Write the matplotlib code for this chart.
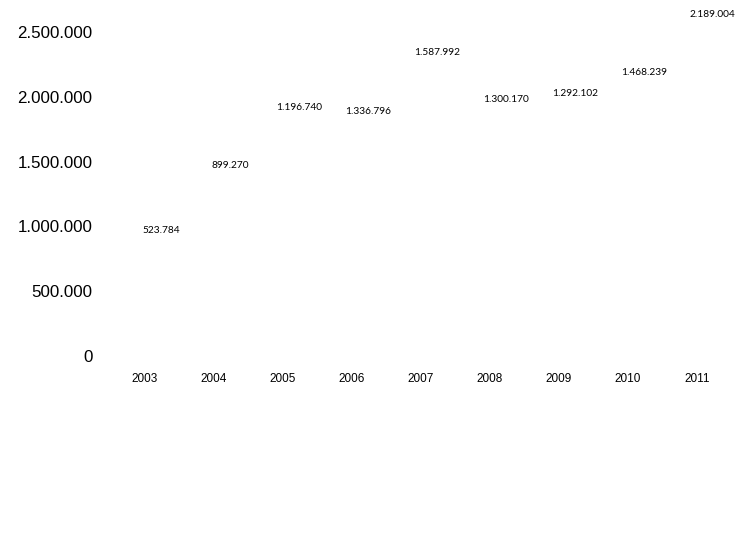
import numpy as np
import matplotlib
matplotlib.use("Agg")
import matplotlib.pyplot as plt
from matplotlib.ticker import FuncFormatter

years = ["2003", "2004", "2005", "2006", "2007", "2008", "2009", "2010", "2011"]
values = [523784, 899270, 1196740, 1336796, 1587992, 1300170, 1292102, 1468239, 2189004]
# hidden series stacked below the labelled one (bars are not drawn in the reference)
hidden = [448000, 567000, 717000, 546000, 750000, 675000, 730000, 716000, 442000]
yticks = [0, 500000, 1000000, 1500000, 2000000, 2500000]


def dotted(v):
    return f"{int(v):,}".replace(",", ".")


fig = plt.figure(figsize=(7.47, 5.44), dpi=100)
ax = fig.add_axes([0.1479, 0.3456, 0.8313, 0.6434])

x = np.arange(len(years))
off = 0.23
bars = ax.bar(x + off, values, bottom=hidden, width=0.4, color="none")
for xi, b, v in zip(x, hidden, values):
    ax.text(xi + off, b + v, dotted(v), ha="center", va="center",
            fontsize=7.3, family="Lato", clip_on=False)

ax.set_xlim(-0.5, len(years) - 0.5)
ax.set_ylim(0, 2700000)
ax.set_xticks(x)
ax.set_xticklabels(years)
ax.set_yticks(yticks)
ax.yaxis.set_major_formatter(FuncFormatter(lambda v, p: dotted(v)))
for lab in ax.get_xticklabels():
    lab.set_fontsize(8.5)
    lab.set_fontfamily("Liberation Sans")
for lab in ax.get_yticklabels():
    lab.set_fontsize(12.2)
    lab.set_fontfamily("Liberation Sans")
ax.tick_params(axis="y", length=0, pad=13)
ax.tick_params(axis="x", length=0, pad=12)
for s in ax.spines.values():
    s.set_visible(False)

fig.savefig("out.png", dpi=100)
